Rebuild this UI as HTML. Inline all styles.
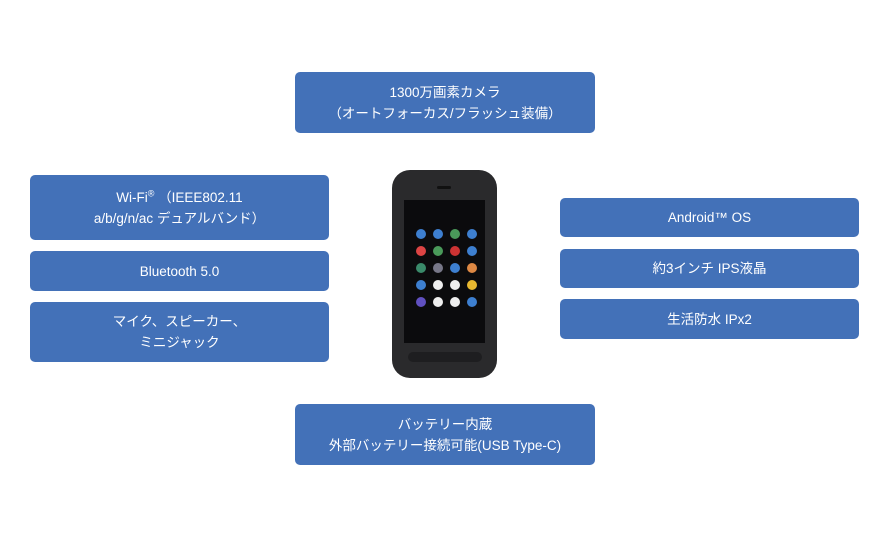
<!DOCTYPE html>
<html><head><meta charset="utf-8"><style>
body{margin:0;width:888px;height:552px;background:#fff;position:relative;overflow:hidden;font-family:"Liberation Sans","Noto Sans CJK JP",sans-serif;}
.b{position:absolute;background:#4371b8;color:#fff;border-radius:5px;display:flex;align-items:center;justify-content:center;text-align:center;font-size:13.5px;line-height:21px;}
.ph{position:absolute;left:392px;top:170px;width:105px;height:208px;background:#2a2a2c;border-radius:18px;}
.sc{position:absolute;left:404px;top:200px;width:81px;height:143px;background:#0b0b0d;}
.ic{position:absolute;width:10px;height:10px;border-radius:50%;}
</style></head><body>
<div class="b" style="left:295px;top:72px;width:300px;height:61px"><div>1300万画素カメラ<br>（オートフォーカス/フラッシュ装備）</div></div>
<div class="b" style="left:30px;top:175px;width:299px;height:65px"><div>Wi-Fi<sup style="font-size:9px;line-height:0">®</sup> （IEEE802.11<br>a/b/g/n/ac デュアルバンド）</div></div>
<div class="b" style="left:30px;top:251px;width:299px;height:40px"><div>Bluetooth 5.0</div></div>
<div class="b" style="left:30px;top:302px;width:299px;height:60px"><div>マイク、スピーカー、<br>ミニジャック</div></div>
<div class="b" style="left:560px;top:198px;width:299px;height:39px"><div>Android™ OS</div></div>
<div class="b" style="left:560px;top:249px;width:299px;height:39px"><div>約3インチ IPS液晶</div></div>
<div class="b" style="left:560px;top:299px;width:299px;height:40px"><div>生活防水 IPx2</div></div>
<div class="b" style="left:295px;top:404px;width:300px;height:61px"><div>バッテリー内蔵<br>外部バッテリー接続可能(USB Type-C)</div></div>
<div class="ph"></div>
<div style="position:absolute;left:437px;top:186px;width:14px;height:3px;background:#111;border-radius:2px"></div>
<div class="sc"></div>
<div style="position:absolute;left:408px;top:352px;width:74px;height:10px;background:#1e1e20;border-radius:5px"></div>
<div style="position:absolute;left:416px;top:229px">
<div class="ic" style="left:0;top:0;background:#3d7fd0"></div><div class="ic" style="left:17px;top:0;background:#3d7fd0"></div><div class="ic" style="left:34px;top:0;background:#4a9a5a"></div><div class="ic" style="left:51px;top:0;background:#3d7fd0"></div>
<div class="ic" style="left:0;top:17px;background:#d44"></div><div class="ic" style="left:17px;top:17px;background:#4a9a5a"></div><div class="ic" style="left:34px;top:17px;background:#c33"></div><div class="ic" style="left:51px;top:17px;background:#3d7fd0"></div>
<div class="ic" style="left:0;top:34px;background:#3a8a6a"></div><div class="ic" style="left:17px;top:34px;background:#778"></div><div class="ic" style="left:34px;top:34px;background:#3d7fd0"></div><div class="ic" style="left:51px;top:34px;background:#d84"></div>
<div class="ic" style="left:0;top:51px;background:#3d7fd0"></div><div class="ic" style="left:17px;top:51px;background:#eee"></div><div class="ic" style="left:34px;top:51px;background:#eee"></div><div class="ic" style="left:51px;top:51px;background:#e8b830"></div>
<div class="ic" style="left:0;top:68px;background:#6050c0"></div><div class="ic" style="left:17px;top:68px;background:#eee"></div><div class="ic" style="left:34px;top:68px;background:#eee"></div><div class="ic" style="left:51px;top:68px;background:#3d7fd0"></div>
</div>
</body></html>
